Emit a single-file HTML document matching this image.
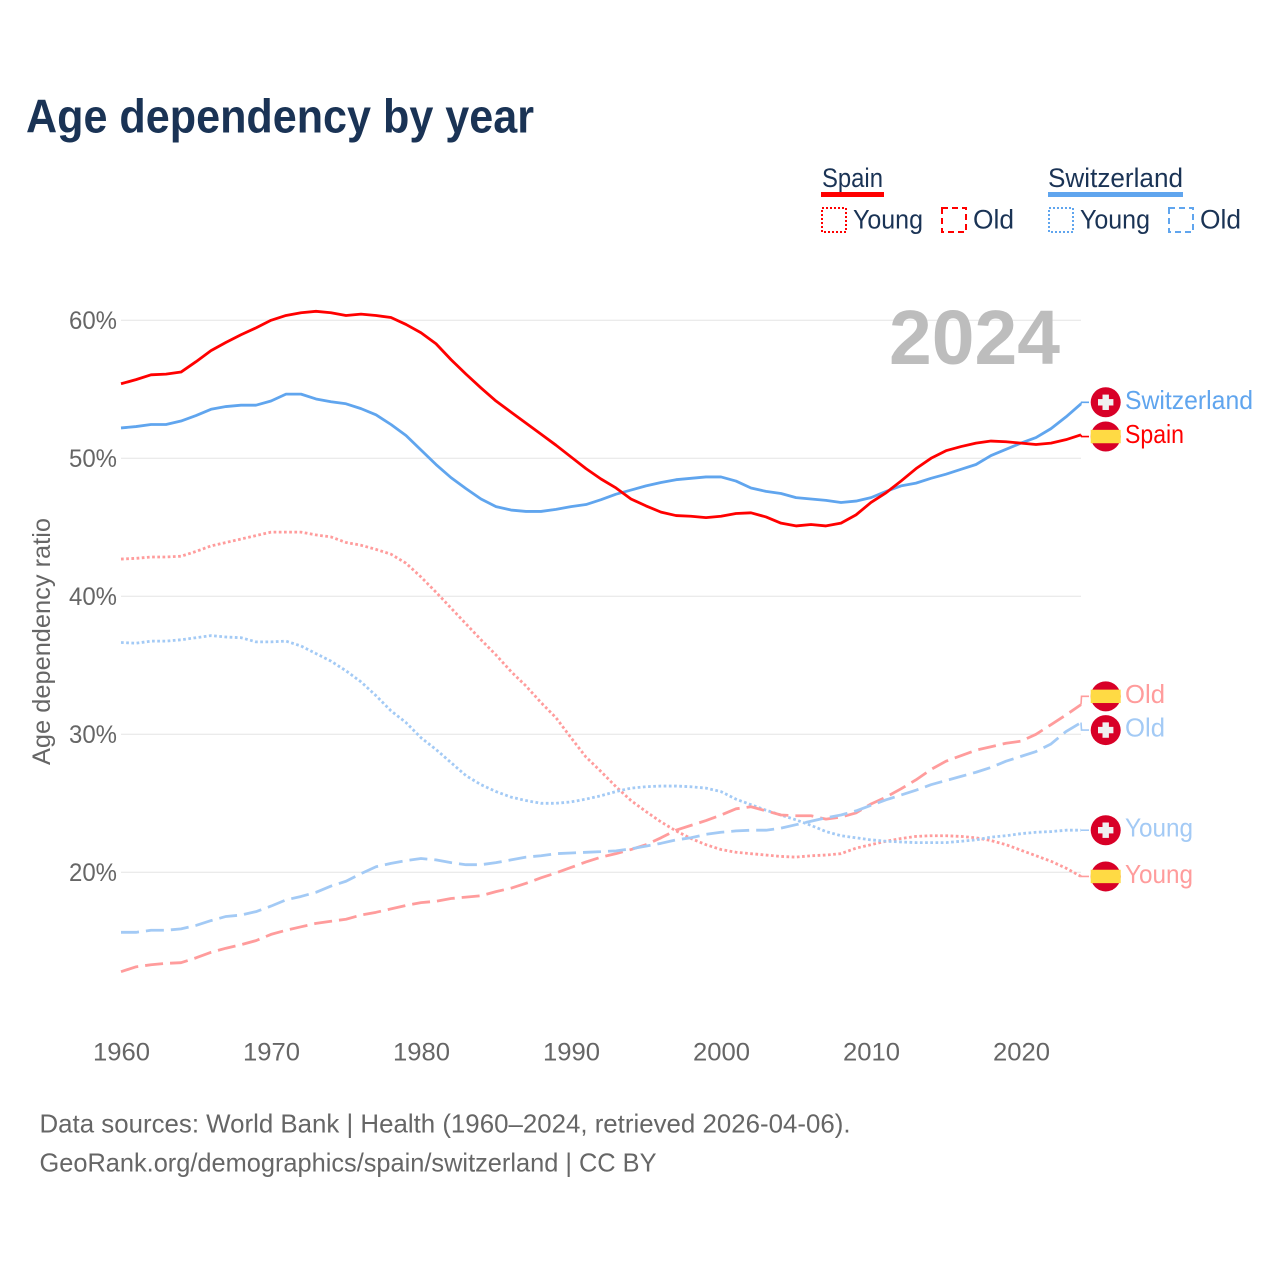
<!DOCTYPE html>
<html lang="en">
<head>
<meta charset="utf-8">
<title>Age dependency by year</title>
<style>
html,body{margin:0;padding:0;background:#fff;width:1280px;height:1280px;overflow:hidden}
svg{display:block}
text{font-family:"Liberation Sans",sans-serif}
</style>
</head>
<body>
<svg id="chart" xmlns="http://www.w3.org/2000/svg" width="1280" height="1280" viewBox="0 0 1280 1280">
  <rect x="0" y="0" width="1280" height="1280" fill="#fff"/>
  <text x="26" y="132.5" font-size="47" font-weight="700" fill="#1a3355" textLength="508" lengthAdjust="spacingAndGlyphs">Age dependency by year</text>

  <g>
    <text x="822" y="187" font-size="27" fill="#1a3355" textLength="61" lengthAdjust="spacingAndGlyphs">Spain</text>
    <rect x="821" y="192" width="63" height="5" fill="#ff0000"/>
    <rect x="822" y="208" width="24" height="24" fill="none" stroke="#ff0000" stroke-width="2" stroke-dasharray="2 2"/>
    <text x="853" y="228.5" font-size="27" fill="#1a3355" textLength="70" lengthAdjust="spacingAndGlyphs">Young</text>
    <rect x="942" y="208" width="24" height="24" fill="none" stroke="#ff0000" stroke-width="2" stroke-dasharray="6 4"/>
    <text x="973" y="228.5" font-size="27" fill="#1a3355" textLength="41" lengthAdjust="spacingAndGlyphs">Old</text>

    <text x="1048" y="187" font-size="27" fill="#1a3355" textLength="135" lengthAdjust="spacingAndGlyphs">Switzerland</text>
    <rect x="1048" y="192" width="135" height="5" fill="#60a5ee"/>
    <rect x="1049" y="208" width="24" height="24" fill="none" stroke="#60a5ee" stroke-width="2" stroke-dasharray="2 2"/>
    <text x="1080" y="228.5" font-size="27" fill="#1a3355" textLength="70" lengthAdjust="spacingAndGlyphs">Young</text>
    <rect x="1169" y="208" width="24" height="24" fill="none" stroke="#60a5ee" stroke-width="2" stroke-dasharray="6 4"/>
    <text x="1200" y="228.5" font-size="27" fill="#1a3355" textLength="41" lengthAdjust="spacingAndGlyphs">Old</text>
  </g>

  <g id="grid"></g>
  <text x="889" y="364" font-size="77" font-weight="700" fill="#bdbdbd" textLength="171" lengthAdjust="spacingAndGlyphs">2024</text>
  <g id="yticks"></g>
  <g id="xticks"></g>
  <text transform="translate(50 765) rotate(-90)" x="0" y="0" font-size="25" fill="#666666" textLength="247" lengthAdjust="spacingAndGlyphs">Age dependency ratio</text>
  <g id="series"></g>
  <g id="endlabels"></g>

  <text x="39.5" y="1132.5" font-size="26" fill="#666666" textLength="811" lengthAdjust="spacingAndGlyphs">Data sources: World Bank | Health (1960–2024, retrieved 2026-04-06).</text>
  <text x="39.5" y="1171.5" font-size="26" fill="#666666" textLength="617" lengthAdjust="spacingAndGlyphs">GeoRank.org/demographics/spain/switzerland | CC BY</text>
</svg>
<script>
const firstYear = 1960;
const xTickYears = [1960, 1970, 1980, 1990, 2000, 2010, 2020];
const yTickValues = [20, 30, 40, 50, 60];
const yTickLabels = ['20%', '30%', '40%', '50%', '60%'];

const spainTotal = [55.4,55.7,56.05,56.1,56.25,57.0,57.8,58.4,58.95,59.45,60.0,60.35,60.55,60.65,60.55,60.35,60.45,60.35,60.2,59.7,59.1,58.3,57.15,56.1,55.1,54.15,53.35,52.55,51.75,50.95,50.1,49.25,48.5,47.85,47.05,46.55,46.1,45.85,45.8,45.7,45.8,46.0,46.05,45.75,45.3,45.1,45.2,45.1,45.3,45.9,46.8,47.5,48.35,49.25,50.0,50.55,50.85,51.1,51.25,51.2,51.1,51.0,51.1,51.35,51.7];
const switzerlandTotal = [52.2,52.3,52.45,52.45,52.7,53.1,53.55,53.75,53.85,53.85,54.15,54.65,54.65,54.3,54.1,53.95,53.6,53.15,52.45,51.65,50.6,49.55,48.6,47.8,47.05,46.5,46.25,46.15,46.15,46.3,46.5,46.65,47.0,47.4,47.7,48.0,48.25,48.45,48.55,48.65,48.65,48.35,47.85,47.6,47.45,47.15,47.05,46.95,46.8,46.9,47.15,47.6,48.0,48.2,48.55,48.85,49.2,49.55,50.2,50.65,51.1,51.5,52.15,53.0,53.95];
const spainYoung = [42.7,42.75,42.85,42.85,42.9,43.25,43.65,43.9,44.15,44.4,44.65,44.65,44.65,44.45,44.3,43.9,43.7,43.4,43.05,42.4,41.4,40.3,39.15,38.0,36.85,35.75,34.55,33.5,32.3,31.2,29.75,28.35,27.3,26.2,25.2,24.4,23.65,23.0,22.45,22.0,21.65,21.45,21.35,21.25,21.15,21.1,21.2,21.25,21.35,21.75,22.0,22.25,22.45,22.6,22.65,22.65,22.6,22.5,22.3,22.0,21.6,21.2,20.8,20.3,19.7];
const switzerlandYoung = [36.65,36.6,36.75,36.75,36.85,37.0,37.15,37.05,37.0,36.7,36.7,36.75,36.4,35.85,35.3,34.6,33.8,32.8,31.7,30.85,29.75,28.9,27.95,27.0,26.35,25.85,25.45,25.2,25.0,25.0,25.1,25.3,25.55,25.85,26.1,26.2,26.25,26.25,26.2,26.1,25.85,25.3,24.9,24.5,24.15,23.8,23.4,22.95,22.65,22.5,22.35,22.25,22.2,22.15,22.15,22.15,22.25,22.35,22.55,22.65,22.8,22.9,22.95,23.05,23.05];
const spainOld = [12.8,13.15,13.3,13.4,13.45,13.8,14.2,14.5,14.75,15.05,15.5,15.8,16.05,16.3,16.45,16.6,16.9,17.1,17.35,17.6,17.8,17.9,18.1,18.2,18.3,18.6,18.85,19.2,19.6,19.95,20.35,20.75,21.1,21.35,21.65,22.0,22.5,23.05,23.4,23.75,24.15,24.6,24.75,24.45,24.15,24.1,24.1,23.85,24.0,24.3,24.95,25.45,26.05,26.7,27.45,28.05,28.45,28.85,29.1,29.35,29.5,30.0,30.7,31.4,32.15];
const switzerlandOld = [15.65,15.65,15.8,15.8,15.9,16.15,16.5,16.8,16.9,17.15,17.55,18.0,18.25,18.55,19.0,19.35,19.9,20.4,20.65,20.85,21.0,20.9,20.7,20.55,20.55,20.7,20.9,21.1,21.2,21.35,21.4,21.45,21.5,21.55,21.7,21.9,22.1,22.35,22.5,22.75,22.9,23.0,23.05,23.05,23.2,23.45,23.7,23.95,24.15,24.45,24.85,25.25,25.6,25.95,26.35,26.65,26.95,27.25,27.6,28.05,28.4,28.75,29.3,30.2,30.85];

const NS = 'http://www.w3.org/2000/svg';
const xScale = year => 121 + (year - firstYear) * 15;
const yScale = value => 320.3 + (60 - value) * 13.8;

function make(tag, parent, props) {
  const el = document.createElementNS(NS, tag);
  for (const k in props) el.setAttribute(k, props[k]);
  parent.appendChild(el);
  return el;
}
function linePath(values) {
  return values.map((v, i) => (i ? 'L' : 'M') + xScale(firstYear + i).toFixed(1) + ' ' + yScale(v).toFixed(2)).join(' ');
}

const gridGroup = document.getElementById('grid');
const yTickGroup = document.getElementById('yticks');
const xTickGroup = document.getElementById('xticks');
const seriesGroup = document.getElementById('series');
const labelGroup = document.getElementById('endlabels');

yTickValues.forEach((value, i) => {
  const gridLine = make('line', gridGroup, {x1: 121, x2: 1081, y1: yScale(value), y2: yScale(value), stroke: '#ebebeb', 'stroke-width': 1.4});
  
  
  const tick = make('text', yTickGroup, {x: 117, y: yScale(value) + 8.5, 'text-anchor': 'end', 'font-size': 25, fill: '#666666', textLength: 48, lengthAdjust: 'spacingAndGlyphs'});
  tick.textContent = yTickLabels[i];
  
  
});

xTickYears.forEach(year => {
  const tick = make('text', xTickGroup, {x: xScale(year) + 0.5, y: 1060.5, 'text-anchor': 'middle', 'font-size': 25, fill: '#666666', textLength: 57, lengthAdjust: 'spacingAndGlyphs'});
  tick.textContent = String(year);
  
  
});

function drawSeries(values, color, dash) {
  const props = {d: linePath(values), fill: 'none', stroke: color, 'stroke-width': 2.8, 'stroke-linejoin': 'round'};
  if (dash) props['stroke-dasharray'] = dash;
  return make('path', seriesGroup, props);
}
const lightRed = '#ff9c9c';
const lightBlue = '#a3caf5';
const lineSpainYoung = drawSeries(spainYoung, lightRed, '2.7 2.5');


const lineSwitzerlandYoung = drawSeries(switzerlandYoung, lightBlue, '2.7 2.5');


const lineSpainOld = drawSeries(spainOld, lightRed, '18 7');


const lineSwitzerlandOld = drawSeries(switzerlandOld, lightBlue, '18 7');


const lineSwitzerlandTotal = drawSeries(switzerlandTotal, '#60a5ee', null);


const lineSpainTotal = drawSeries(spainTotal, '#ff0000', null);



/* End labels sit at the series' final value, nudged apart (nudge in px) to avoid collisions. */
function endLabel(values, country, text, color, nudge, width) {
  const lastX = xScale(firstYear + values.length - 1);
  const lastY = yScale(values[values.length - 1]);
  const cy = lastY + nudge;
  const connector = make('path', labelGroup, {d: `M${lastX} ${lastY} L${lastX + 0.5} ${cy} L${lastX + 8} ${cy}`, fill: 'none', stroke: color, 'stroke-width': 1.6});
  
  
  const flag = make('g', labelGroup, {});
  
  
  const cx = 1105.7;
  make('circle', flag, {cx: cx, cy: cy, r: 15, fill: '#d80027'});
  if (country === 'spain') {
    make('rect', flag, {x: cx - 15, y: cy - 6.7, width: 30, height: 13.4, fill: '#ffda44'});
  } else {
    make('rect', flag, {x: cx - 7.7, y: cy - 3.2, width: 15.4, height: 6.4, fill: '#f0f0f0'});
    make('rect', flag, {x: cx - 3.2, y: cy - 7.7, width: 6.4, height: 15.4, fill: '#f0f0f0'});
  }
  const label = make('text', labelGroup, {x: 1125, y: cy + 6.5, 'font-size': 26, fill: color, textLength: width, lengthAdjust: 'spacingAndGlyphs'});
  label.textContent = text;
  
  
}
endLabel(switzerlandTotal, 'switzerland', 'Switzerland', '#60a5ee', -1.5, 128);
endLabel(spainTotal, 'spain', 'Spain', '#ff0000', 1.7, 59);
endLabel(spainOld, 'spain', 'Old', lightRed, -8.3, 40);
endLabel(switzerlandOld, 'switzerland', 'Old', lightBlue, 7.5, 40);
endLabel(switzerlandYoung, 'switzerland', 'Young', lightBlue, 0, 68);
endLabel(spainYoung, 'spain', 'Young', lightRed, 0, 68);
</script>
</body>
</html>
